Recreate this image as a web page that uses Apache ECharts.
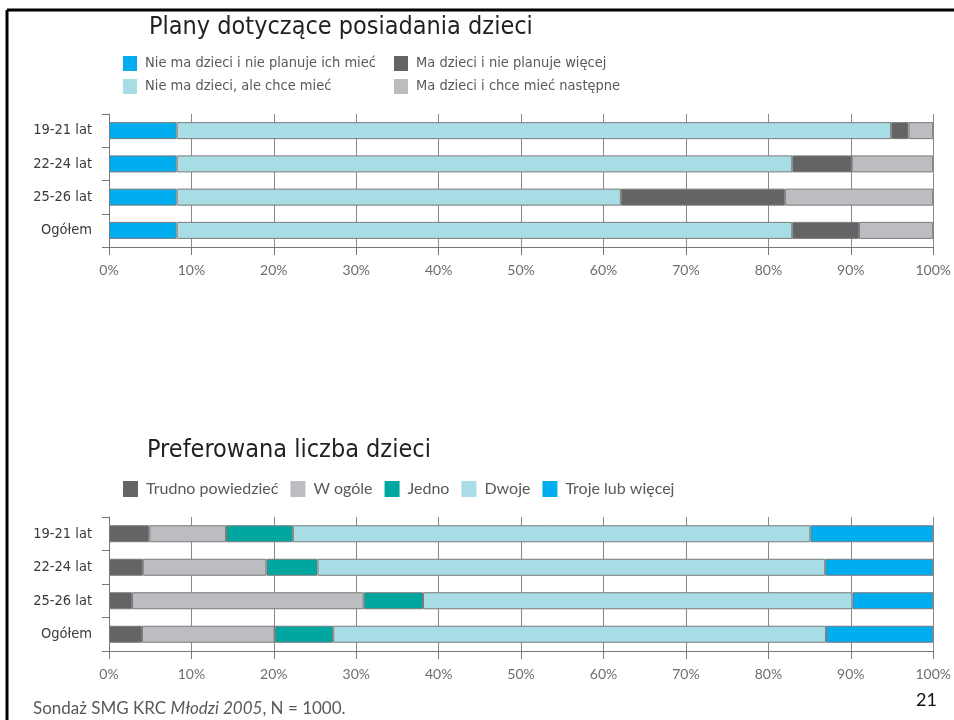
<!DOCTYPE html>
<html>
<head>
<meta charset="utf-8">
<script src="https://cdn.jsdelivr.net/npm/echarts@6/dist/echarts.min.js"></script>
<style>
  html, body { margin: 0; padding: 0; background: #fff; overflow: hidden; }
  #chart { width: 954px; height: 720px; }
</style>
</head>
<body>
<div id="chart"></div>
<script>
// kategorie (wspólne dla obu wykresów)
var categories = ["19-21 lat", "22-24 lat", "25-26 lat", "Ogółem"];
var tickLabels = ["0%", "10%", "20%", "30%", "40%", "50%", "60%", "70%", "80%", "90%", "100%"];

// Plany dotyczące posiadania dzieci (%)
var planyNames = [
  "Nie ma dzieci i nie planuje ich mieć",
  "Nie ma dzieci, ale chce mieć",
  "Ma dzieci i nie planuje więcej",
  "Ma dzieci i chce mieć następne"
];
var nieMaNiePlanuje = [8.2, 8.2, 8.2, 8.2];
var nieMaChce = [86.7, 74.7, 53.9, 74.7];
var maNiePlanuje = [2.1, 7.2, 19.9, 8.1];
var maChce = [3.0, 9.9, 18.0, 9.0];

// Preferowana liczba dzieci (%)
var liczbaNames = ["Trudno powiedzieć", "W ogóle", "Jedno", "Dwoje", "Troje lub więcej"];
var trudno = [4.9, 4.1, 2.8, 4.0];
var wOgole = [9.3, 15.0, 28.1, 16.1];
var jedno = [8.1, 6.2, 7.2, 7.1];
var dwoje = [62.8, 61.6, 52.1, 59.8];
var troje = [14.9, 13.1, 9.8, 13.0];

var chart = echarts.init(document.getElementById("chart"));

var narrow = "'Liberation Sans Narrow', 'DejaVu Sans Condensed', sans-serif";
var humanist = "Lato, 'Noto Sans', sans-serif";

function xAxisFor(gridIndex) {
  return {
    type: "value",
    gridIndex: gridIndex,
    min: 0,
    max: 100,
    interval: 10,
    axisLine: { show: true, lineStyle: { color: "#777", width: 1 } },
    axisTick: { show: true, length: 8, lineStyle: { color: "#777" } },
    splitLine: { show: true, lineStyle: { color: "#888", width: 1 } },
    axisLabel: {
      margin: 16,
      color: "#6d6e71",
      fontFamily: humanist,
      fontSize: 14,
      formatter: function (v) {
        return tickLabels[Math.round(v / 10)];
      }
    }
  };
}

function yAxisFor(gridIndex) {
  return {
    type: "category",
    gridIndex: gridIndex,
    data: categories,
    inverse: true,
    axisLine: { show: true, lineStyle: { color: "#777", width: 1 } },
    axisTick: { show: true, length: 7, lineStyle: { color: "#777" } },
    splitLine: { show: false },
    axisLabel: {
      margin: 17,
      color: "#3a3a3a",
      fontFamily: narrow,
      fontSize: 14.5
    }
  };
}

function barSeries(name, data, color, gridIndex) {
  return {
    name: name,
    type: "bar",
    stack: "g" + gridIndex,
    xAxisIndex: gridIndex,
    yAxisIndex: gridIndex,
    barWidth: 17,
    itemStyle: { color: color, borderColor: "#7a7a7a", borderWidth: 1 },
    data: data
  };
}

var option = {
  animation: false,
  backgroundColor: "#fff",
  title: [
    {
      text: "Plany dotyczące posiadania dzieci",
      left: 144,
      top: 10,
      textStyle: { fontFamily: narrow, fontSize: 25, fontWeight: "normal", color: "#231f20" }
    },
    {
      text: "Preferowana liczba dzieci",
      left: 142,
      top: 433,
      textStyle: { fontFamily: narrow, fontSize: 25, fontWeight: "normal", color: "#231f20" }
    },
    {
      text: "{a|Sondaż SMG KRC }{b|Młodzi 2005}{a|, N = 1000.}",
      left: 33,
      top: 700,
      padding: 0,
      textStyle: {
        fontWeight: "normal",
        rich: {
          a: { fontFamily: humanist, fontSize: 17, fontWeight: "normal", color: "#58595b" },
          b: { fontFamily: humanist, fontSize: 17, fontWeight: "normal", fontStyle: "italic", color: "#58595b" }
        }
      }
    },
    {
      text: "21",
      left: 916,
      top: 691,
      padding: 0,
      textStyle: { fontFamily: humanist, fontSize: 18, fontWeight: "normal", color: "#111" }
    }
  ],
  legend: [
    {
      data: [planyNames[0], planyNames[1]],
      orient: "vertical",
      left: 123,
      top: 56,
      padding: 0,
      itemGap: 8,
      itemWidth: 14,
      itemHeight: 15,
      icon: "rect",
      itemStyle: { borderWidth: 0 },
      textStyle: { fontFamily: narrow, fontSize: 14.5, color: "#58595b", padding: [0, 0, 0, 3] }
    },
    {
      data: [planyNames[2], planyNames[3]],
      orient: "vertical",
      left: 394,
      top: 56,
      padding: 0,
      itemGap: 8,
      itemWidth: 14,
      itemHeight: 15,
      icon: "rect",
      itemStyle: { borderWidth: 0 },
      textStyle: { fontFamily: narrow, fontSize: 14.5, color: "#58595b", padding: [0, 0, 0, 3] }
    },
    {
      data: liczbaNames,
      orient: "horizontal",
      left: 123,
      top: 481,
      padding: 0,
      itemGap: 12,
      itemWidth: 15,
      itemHeight: 16,
      icon: "rect",
      itemStyle: { borderWidth: 0 },
      textStyle: { fontFamily: humanist, fontSize: 16, color: "#58595b", padding: [0, 0, 0, 3] }
    }
  ],
  grid: [
    { left: 109, right: 16, top: 114, height: 133 },
    { left: 109, right: 16, top: 517, height: 134 }
  ],
  xAxis: [xAxisFor(0), xAxisFor(1)],
  yAxis: [yAxisFor(0), yAxisFor(1)],
  series: [
    barSeries(planyNames[0], nieMaNiePlanuje, "#00aeef", 0),
    barSeries(planyNames[1], nieMaChce, "#a9dde6", 0),
    barSeries(planyNames[2], maNiePlanuje, "#636466", 0),
    barSeries(planyNames[3], maChce, "#bcbdc0", 0),
    barSeries(liczbaNames[0], trudno, "#636466", 1),
    barSeries(liczbaNames[1], wOgole, "#bcbdc0", 1),
    barSeries(liczbaNames[2], jedno, "#00a7a0", 1),
    barSeries(liczbaNames[3], dwoje, "#a9dde6", 1),
    barSeries(liczbaNames[4], troje, "#00aeef", 1)
  ],
  graphic: [
    // ramka slajdu
    {
      type: "line",
      shape: { x1: 7, y1: 10, x2: 954, y2: 10 },
      style: { stroke: "#000", lineWidth: 3 }
    },
    {
      type: "line",
      shape: { x1: 7, y1: 10, x2: 7, y2: 720 },
      style: { stroke: "#000", lineWidth: 3 }
    }
  ]
};

chart.setOption(option);
window.addEventListener("resize", function () {
  chart.resize();
});
</script>
</body>
</html>
